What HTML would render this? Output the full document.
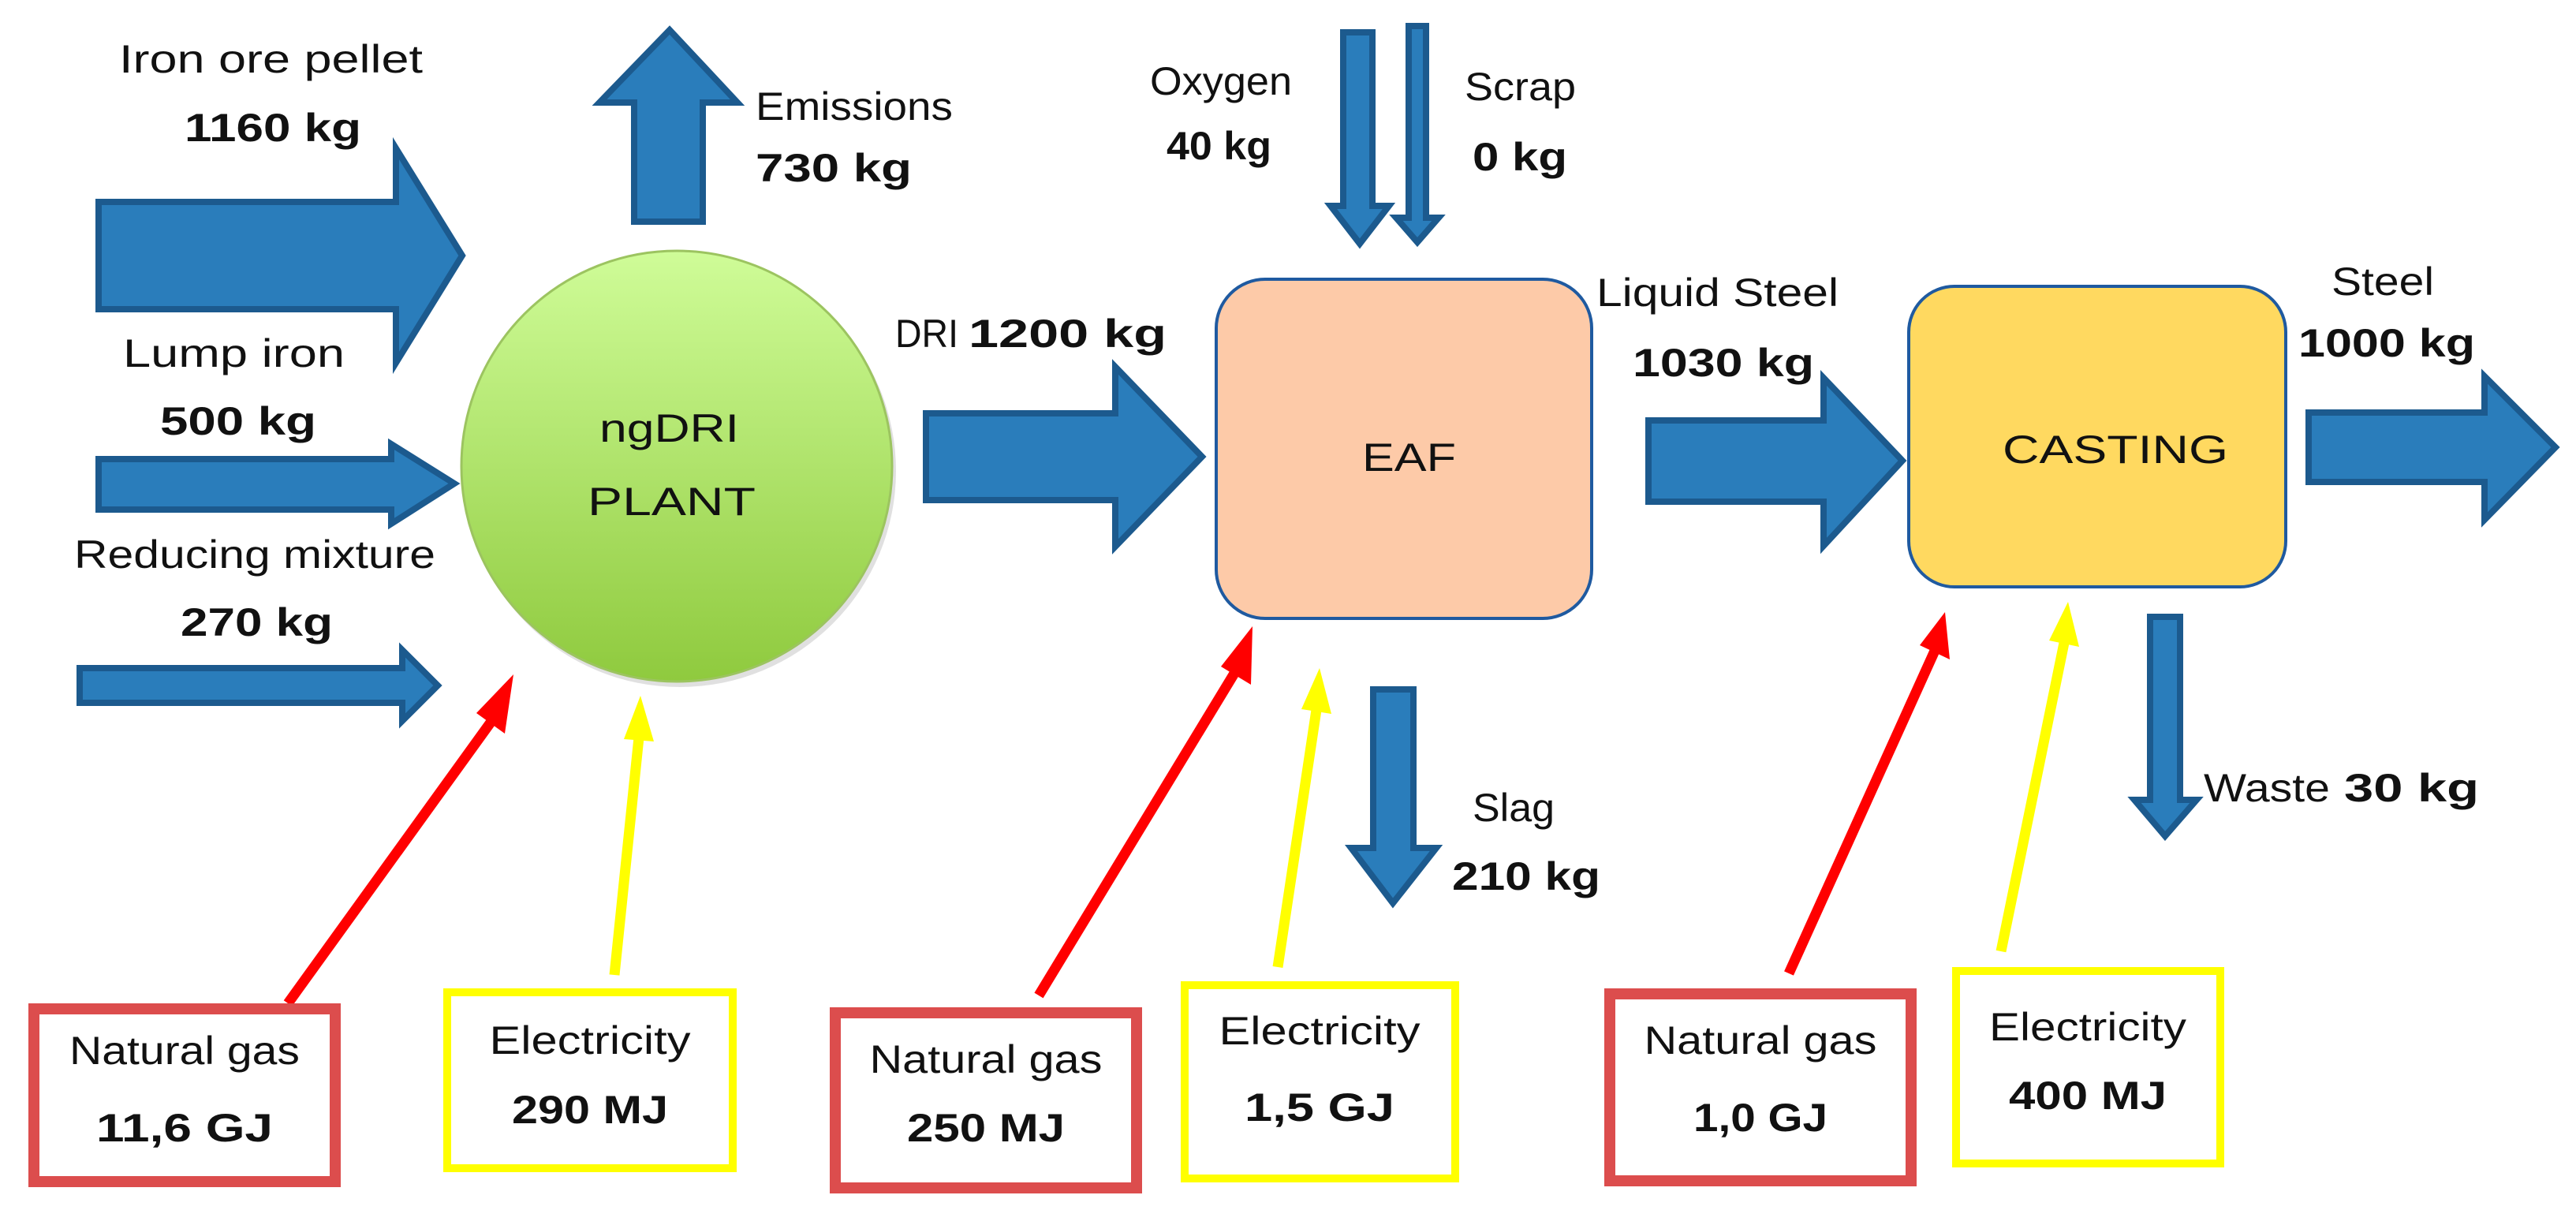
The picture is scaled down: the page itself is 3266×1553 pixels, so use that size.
<!DOCTYPE html>
<html><head><meta charset="utf-8"><style>
html,body{margin:0;padding:0;background:#fff;}
svg{display:block;}
text{font-family:"Liberation Sans",sans-serif;font-size:50px;fill:#111;}
.b{font-weight:bold;}
</style></head><body>
<svg width="3266" height="1553" viewBox="0 0 3266 1553" xmlns="http://www.w3.org/2000/svg">
<defs>
<radialGradient id="gr" cx="0.5" cy="0.3" r="0.75">
<stop offset="0" stop-color="#cdf896"/><stop offset="1" stop-color="#8cc83c"/>
</radialGradient>
<linearGradient id="gl" x1="0" y1="0" x2="0" y2="1">
<stop offset="0" stop-color="#cffc98"/><stop offset="1" stop-color="#8fca3e"/>
</linearGradient>
</defs>
<g fill="#2a7dbb" stroke="#1c5a8e" stroke-width="8" stroke-linejoin="miter">
<!-- iron ore -->
<polygon points="125,256 502,256 502,188 586,324 502,460 502,392 125,392"/>
<!-- lump -->
<polygon points="125,582 496,582 496,563 576,613 496,664 496,646 125,646"/>
<!-- reducing -->
<polygon points="101,847 510,847 510,824 555,869 510,914 510,891 101,891"/>
<!-- emissions -->
<polygon points="804,281 804,130 760,130 849,38 935,130 891,130 891,281"/>
<!-- DRI -->
<polygon points="1174,524 1414,524 1414,465 1524,579 1414,693 1414,634 1174,634"/>
<!-- liquid steel -->
<polygon points="2090,533 2312,533 2312,479 2412,584 2312,692 2312,636 2090,636"/>
<!-- steel -->
<polygon points="2927,523 3150,523 3150,477 3240,567 3150,659 3150,611 2927,611"/>
<!-- oxygen -->
<polygon points="1703,41 1740,41 1740,261 1761,261 1724,309 1687,261 1703,261"/>
<!-- scrap -->
<polygon points="1786,33 1808,33 1808,276 1824,276 1797,307 1770,276 1786,276"/>
<!-- slag -->
<polygon points="1741,874 1792,874 1792,1075 1821,1075 1766,1145 1713,1075 1741,1075"/>
<!-- waste -->
<polygon points="2726,782 2764,782 2764,1014 2785,1014 2745,1060 2706,1014 2726,1014"/>
</g>
<!-- ngDRI circle -->
<circle cx="862" cy="597" r="274" fill="#000" opacity="0.12"/>
<circle cx="858" cy="591" r="273" fill="url(#gl)" stroke="#9cc460" stroke-width="3"/>
<!-- EAF -->
<rect x="1542" y="354" width="476" height="430" rx="62" fill="#fdcaa8" stroke="#1f5aa0" stroke-width="4"/>
<!-- CASTING -->
<rect x="2420" y="363" width="478" height="381" rx="58" fill="#ffd960" stroke="#1f5aa0" stroke-width="4"/>

<!-- red / yellow arrows -->
<g stroke-width="13" stroke-linecap="butt">
<line x1="365" y1="1272" x2="632" y2="902" stroke="#ff0000"/>
<polygon points="651,855 640,930 604,904" fill="#ff0000"/>
<line x1="779" y1="1236" x2="810" y2="935" stroke="#ffff00"/>
<polygon points="812,882 829,940 791,937" fill="#ffff00"/>
<line x1="1317" y1="1262" x2="1572" y2="842" stroke="#ff0000"/>
<polygon points="1588,794 1586,868 1548,845" fill="#ff0000"/>
<line x1="1620" y1="1226" x2="1669" y2="900" stroke="#ffff00"/>
<polygon points="1673,847 1688,905 1650,899" fill="#ffff00"/>
<line x1="2268" y1="1234" x2="2453" y2="825" stroke="#ff0000"/>
<polygon points="2466,776 2472,836 2434,818" fill="#ff0000"/>
<line x1="2537" y1="1206" x2="2617" y2="815" stroke="#ffff00"/>
<polygon points="2622,763 2636,820 2598,812" fill="#ffff00"/>
</g>

<!-- boxes -->
<rect x="43" y="1279" width="382" height="219" fill="#fff" stroke="#dc4d4d" stroke-width="14"/>
<rect x="567" y="1258" width="362" height="223" fill="#fff" stroke="#ffff00" stroke-width="10"/>
<rect x="1059" y="1284" width="382" height="222" fill="#fff" stroke="#dc4d4d" stroke-width="14"/>
<rect x="1502" y="1249" width="343" height="245" fill="#fff" stroke="#ffff00" stroke-width="10"/>
<rect x="2041" y="1260" width="382" height="237" fill="#fff" stroke="#dc4d4d" stroke-width="14"/>
<rect x="2480" y="1231" width="335" height="244" fill="#fff" stroke="#ffff00" stroke-width="10"/>

<!-- labels -->
<g lengthAdjust="spacingAndGlyphs">
<text x="151" y="92" textLength="385" lengthAdjust="spacingAndGlyphs">Iron ore pellet</text>
<text class="b" x="234" y="179" textLength="224" lengthAdjust="spacingAndGlyphs">1160 kg</text>
<text x="958" y="152" textLength="250" lengthAdjust="spacingAndGlyphs">Emissions</text>
<text class="b" x="958" y="230" textLength="198" lengthAdjust="spacingAndGlyphs">730 kg</text>
<text x="1458" y="120" textLength="180" lengthAdjust="spacingAndGlyphs">Oxygen</text>
<text class="b" x="1479" y="202" textLength="133" lengthAdjust="spacingAndGlyphs">40 kg</text>
<text x="1857" y="127" textLength="141" lengthAdjust="spacingAndGlyphs">Scrap</text>
<text class="b" x="1867" y="216" textLength="120" lengthAdjust="spacingAndGlyphs">0 kg</text>
<text x="156" y="465" textLength="281" lengthAdjust="spacingAndGlyphs">Lump iron</text>
<text class="b" x="203" y="551" textLength="198" lengthAdjust="spacingAndGlyphs">500 kg</text>
<text x="94" y="720" textLength="458" lengthAdjust="spacingAndGlyphs">Reducing mixture</text>
<text class="b" x="229" y="806" textLength="193" lengthAdjust="spacingAndGlyphs">270 kg</text>
<text x="760" y="560" textLength="177" lengthAdjust="spacingAndGlyphs">ngDRI</text>
<text x="745" y="653" textLength="213" lengthAdjust="spacingAndGlyphs">PLANT</text>
<text x="1135" y="440" textLength="80" lengthAdjust="spacingAndGlyphs">DRI</text>
<text class="b" x="1228" y="440" textLength="251" lengthAdjust="spacingAndGlyphs">1200 kg</text>
<text x="1727" y="597" textLength="119" lengthAdjust="spacingAndGlyphs">EAF</text>
<text x="2024" y="388" textLength="307" lengthAdjust="spacingAndGlyphs">Liquid Steel</text>
<text class="b" x="2070" y="477" textLength="230" lengthAdjust="spacingAndGlyphs">1030 kg</text>
<text x="2539" y="587" textLength="286" lengthAdjust="spacingAndGlyphs">CASTING</text>
<text x="2956" y="374" textLength="130" lengthAdjust="spacingAndGlyphs">Steel</text>
<text class="b" x="2914" y="452" textLength="224" lengthAdjust="spacingAndGlyphs">1000 kg</text>
<text x="1867" y="1041" textLength="104" lengthAdjust="spacingAndGlyphs">Slag</text>
<text class="b" x="1841" y="1128" textLength="188" lengthAdjust="spacingAndGlyphs">210 kg</text>
<text x="2794" y="1016" textLength="160" lengthAdjust="spacingAndGlyphs">Waste</text>
<text class="b" x="2972" y="1016" textLength="171" lengthAdjust="spacingAndGlyphs">30 kg</text>
</g>
<g text-anchor="middle">
<text x="234" y="1349" textLength="292" lengthAdjust="spacingAndGlyphs">Natural gas</text>
<text class="b" x="234" y="1447" textLength="224" lengthAdjust="spacingAndGlyphs">11,6 GJ</text>
<text x="748" y="1336" textLength="255" lengthAdjust="spacingAndGlyphs">Electricity</text>
<text class="b" x="748" y="1424" textLength="198" lengthAdjust="spacingAndGlyphs">290 MJ</text>
<text x="1250" y="1360" textLength="295" lengthAdjust="spacingAndGlyphs">Natural gas</text>
<text class="b" x="1250" y="1447" textLength="200" lengthAdjust="spacingAndGlyphs">250 MJ</text>
<text x="1673" y="1324" textLength="255" lengthAdjust="spacingAndGlyphs">Electricity</text>
<text class="b" x="1673" y="1421" textLength="190" lengthAdjust="spacingAndGlyphs">1,5 GJ</text>
<text x="2232" y="1336" textLength="295" lengthAdjust="spacingAndGlyphs">Natural gas</text>
<text class="b" x="2232" y="1434" textLength="170" lengthAdjust="spacingAndGlyphs">1,0 GJ</text>
<text x="2647" y="1319" textLength="250" lengthAdjust="spacingAndGlyphs">Electricity</text>
<text class="b" x="2647" y="1406" textLength="200" lengthAdjust="spacingAndGlyphs">400 MJ</text>
</g>
</svg>
</body></html>
